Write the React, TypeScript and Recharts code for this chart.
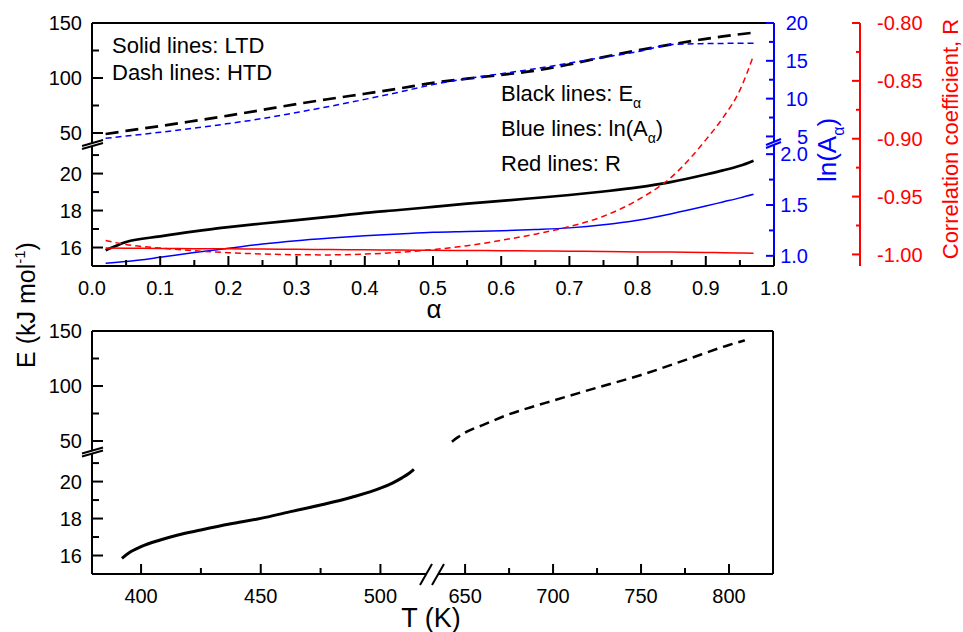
import { LineChart, Line, XAxis, YAxis, ReferenceLine } from "recharts";

const FONT = "'Liberation Sans', Arial, sans-serif";
const BLUE = "#0000ff";
const RED = "#ff0000";

// top panel: values against conversion alpha
const alpha = [0.02, 0.05, 0.1, 0.15, 0.2, 0.25, 0.3, 0.35, 0.4, 0.45, 0.5, 0.55, 0.6, 0.65, 0.7, 0.75, 0.8, 0.85, 0.9, 0.925, 0.95, 0.97];
const eLTD = [15.85, 16.3, 16.6, 16.87, 17.1, 17.3, 17.48, 17.67, 17.87, 18.03, 18.2, 18.37, 18.52, 18.68, 18.84, 19.03, 19.25, 19.55, 19.95, 20.17, 20.42, 20.7];
const eHTD = [49.1, 51.9, 56.3, 61.0, 65.8, 71.0, 76.3, 81.1, 85.7, 90.4, 95.6, 99.4, 102.9, 106.7, 112.4, 119.0, 125.1, 130.6, 135.6, 137.8, 139.8, 141.2];
const lnALTD = [0.927, 0.944, 0.986, 1.033, 1.074, 1.116, 1.149, 1.175, 1.198, 1.215, 1.231, 1.239, 1.247, 1.259, 1.275, 1.305, 1.35, 1.415, 1.49, 1.53, 1.57, 1.605];
const lnAHTD = [4.75, 5.05, 5.55, 6.1, 6.7, 7.37, 8.17, 9.0, 9.9, 10.85, 11.85, 12.65, 13.3, 13.95, 14.7, 15.45, 16.2, 17.15, 17.28, 17.3, 17.32, 17.32];
const rLTD = [-0.9945, -0.9946, -0.9948, -0.995, -0.9952, -0.9954, -0.9956, -0.9958, -0.996, -0.9962, -0.9964, -0.9966, -0.9968, -0.997, -0.9972, -0.9975, -0.9978, -0.998, -0.9983, -0.9985, -0.9987, -0.999];
const rHTD = [-0.988, -0.9915, -0.9945, -0.9968, -0.9985, -0.9996, -1.0003, -1.0004, -0.9997, -0.9982, -0.9958, -0.9925, -0.9878, -0.9825, -0.976, -0.967, -0.953, -0.933, -0.901, -0.882, -0.858, -0.828];

// bottom panel: E against temperature
const tempLTD = [392, 395, 400, 408, 415, 425, 437, 450, 462, 475, 488, 500, 505, 509, 512, 514];
const eTempLTD = [15.85, 16.15, 16.48, 16.84, 17.1, 17.38, 17.7, 18.01, 18.36, 18.73, 19.15, 19.64, 19.92, 20.2, 20.45, 20.66];
const tempHTD = [642.5, 646, 651, 660, 675, 687, 700, 725, 750, 775, 800, 809];
const eTempHTD = [49.4, 53.5, 58.5, 64.5, 74.3, 80.5, 86.7, 98.5, 110, 123.5, 137.3, 141.5];

// ticks
const alphaTicks = [0, 0.05, 0.1, 0.15, 0.2, 0.25, 0.3, 0.35, 0.4, 0.45, 0.5, 0.55, 0.6, 0.65, 0.7, 0.75, 0.8, 0.85, 0.9, 0.95, 1];
const alphaMajor = [0, 0.1, 0.2, 0.3, 0.4, 0.5, 0.6, 0.7, 0.8, 0.9, 1];
const eHighTicks = [50, 75, 100, 125, 150];
const eHighMajor = [50, 100, 150];
const eLowTicks = [16, 17, 18, 19, 20, 21];
const eLowMajor = [16, 18, 20];
const lnAHighTicks = [5, 7.5, 10, 12.5, 15, 17.5, 20];
const lnAHighMajor = [5, 10, 15, 20];
const lnALowTicks = [1, 1.25, 1.5, 1.75, 2];
const lnALowMajor = [1, 1.5, 2];
const rTicks = [-1, -0.975, -0.95, -0.925, -0.9, -0.875, -0.85, -0.825, -0.8];
const rMajor = [-1, -0.95, -0.9, -0.85, -0.8];
const tLowTicks = [400, 425, 450, 475, 500];
const tLowMajor = [400, 450, 500];
const tHighTicks = [650, 675, 700, 725, 750, 775, 800];
const tHighMajor = [650, 700, 750, 800];

const topRows = alpha.map((a, i) => ({
  alpha: a,
  eLTD: eLTD[i],
  eHTD: eHTD[i],
  lnALTD: lnALTD[i],
  lnAHTD: lnAHTD[i],
  rLTD: rLTD[i],
  rHTD: rHTD[i],
}));
const ltdRows = tempLTD.map((t, i) => ({ T: t, E: eTempLTD[i] }));
const htdRows = tempHTD.map((t, i) => ({ T: t, E: eTempHTD[i] }));

type Side = "left" | "right" | "bottom";

// ticks drawn inward, labels outward
function tickMaker(side: Side, majors: number[], color: string, digits: number, big: number, small: number, gap: number) {
  return (props: any) => {
    const { x, y, payload } = props;
    const v = Number(payload.value);
    const isMajor = majors.some((m) => Math.abs(m - v) < 1e-6);
    const len = isMajor ? big : small;
    const label = v.toFixed(digits);
    const txt = { fill: color, fontSize: 20, fontFamily: FONT };
    if (side === "left") {
      return (
        <g>
          <line x1={x} y1={y} x2={x + len} y2={y} stroke={color} strokeWidth={2} />
          {isMajor && (
            <text x={x - gap} y={y} dy="0.36em" textAnchor="end" {...txt}>
              {label}
            </text>
          )}
        </g>
      );
    }
    if (side === "right") {
      return (
        <g>
          <line x1={x} y1={y} x2={x - len} y2={y} stroke={color} strokeWidth={2} />
          {isMajor && (
            <text x={x + gap} y={y} dy="0.36em" textAnchor={gap > 25 ? "end" : "start"} {...txt}>
              {label}
            </text>
          )}
        </g>
      );
    }
    return (
      <g>
        <line x1={x} y1={y} x2={x} y2={y - len} stroke={color} strokeWidth={2} />
        {isMajor && (
          <text x={x} y={y + gap} textAnchor="middle" {...txt}>
            {label}
          </text>
        )}
      </g>
    );
  };
}

const axisBase = { tickSize: 0, tickMargin: 0, interval: 0 as const, tickLine: false, allowDataOverflow: true, type: "number" as const };
const blackLine = { stroke: "#000", strokeWidth: 2 };

const abs = (children: any) => (
  <div style={{ position: "absolute", left: 0, top: 0 }}>{children}</div>
);

export default function App() {
  return (
    <div style={{ position: "absolute", left: 0, top: 0, width: 963, height: 632, background: "#fff", fontFamily: FONT }}>
      {/* top panel, upper part (HTD) */}
      {abs(
        <LineChart width={963} height={150} data={topRows} margin={{ top: 23, right: 129, bottom: 6, left: 0 }}>
          <XAxis dataKey="alpha" {...axisBase} domain={[0, 1]} hide />
          <YAxis yAxisId="e" {...axisBase} domain={[40, 150]} ticks={eHighTicks} width={92} axisLine={blackLine}
            tick={tickMaker("left", eHighMajor, "#000", 0, 11, 7, 10)} />
          <YAxis yAxisId="a" orientation="right" {...axisBase} domain={[4, 20]} ticks={lnAHighTicks} width={60}
            axisLine={{ stroke: BLUE, strokeWidth: 2 }} tick={tickMaker("right", lnAHighMajor, BLUE, 0, 8, 5, 34)} />
          <ReferenceLine yAxisId="e" y={150} stroke="#000" strokeWidth={2} />
          <Line yAxisId="e" type="monotone" dataKey="eHTD" stroke="#000" strokeWidth={2.7} strokeDasharray="13 7" dot={false} isAnimationActive={false} />
          <Line yAxisId="a" type="monotone" dataKey="lnAHTD" stroke={BLUE} strokeWidth={1.5} strokeDasharray="6 4" dot={false} isAnimationActive={false} />
        </LineChart>
      )}
      {/* top panel, lower part (LTD) */}
      {abs(
        <LineChart width={963} height={310} data={topRows} margin={{ top: 144, right: 129, bottom: 0, left: 0 }}>
          <XAxis dataKey="alpha" {...axisBase} domain={[0, 1]} ticks={alphaTicks} height={44} axisLine={blackLine}
            tick={tickMaker("bottom", alphaMajor, "#000", 1, 10, 6, 28.5)} />
          <YAxis yAxisId="e" {...axisBase} domain={[15, 21.6]} ticks={eLowTicks} width={92} axisLine={blackLine}
            tick={tickMaker("left", eLowMajor, "#000", 0, 11, 7, 10)} />
          <YAxis yAxisId="a" orientation="right" {...axisBase} domain={[0.9, 2.1]} ticks={lnALowTicks} width={60}
            axisLine={{ stroke: BLUE, strokeWidth: 2 }} tick={tickMaker("right", lnALowMajor, BLUE, 1, 8, 5, 34)} />
          <Line yAxisId="a" type="monotone" dataKey="lnALTD" stroke={BLUE} strokeWidth={1.5} dot={false} isAnimationActive={false} />
          <Line yAxisId="e" type="monotone" dataKey="eLTD" stroke="#000" strokeWidth={2.7} dot={false} isAnimationActive={false} />
        </LineChart>
      )}
      {/* top panel, correlation coefficient */}
      {abs(
        <LineChart width={963} height={272} data={topRows} margin={{ top: 23, right: 28, bottom: 6, left: 92 }}>
          <XAxis dataKey="alpha" {...axisBase} domain={[0, 1]} hide />
          <YAxis yAxisId="r" orientation="right" {...axisBase} domain={[-1.01, -0.8]} ticks={rTicks} width={75}
            axisLine={{ stroke: RED, strokeWidth: 2 }} tick={tickMaker("right", rMajor, RED, 2, 8, 4, 17)} />
          <YAxis yAxisId="aa" orientation="right" {...axisBase} domain={[0, 1]} width={86} tick={false} axisLine={false} />
          <Line yAxisId="r" type="monotone" dataKey="rLTD" stroke={RED} strokeWidth={1.5} dot={false} isAnimationActive={false} />
          <Line yAxisId="r" type="monotone" dataKey="rHTD" stroke={RED} strokeWidth={1.5} strokeDasharray="6 4" dot={false} isAnimationActive={false} />
        </LineChart>
      )}
      {/* bottom panel, upper left (axis only) */}
      {abs(
        <LineChart width={963} height={456} data={ltdRows} margin={{ top: 331, right: 528, bottom: 4, left: 0 }}>
          <XAxis dataKey="T" {...axisBase} domain={[379.5, 522.8]} hide />
          <YAxis yAxisId="e" {...axisBase} domain={[40, 150]} ticks={eHighTicks} width={92} axisLine={blackLine}
            tick={tickMaker("left", eHighMajor, "#000", 0, 11, 7, 10)} />
          <ReferenceLine yAxisId="e" y={150} stroke="#000" strokeWidth={2} />
        </LineChart>
      )}
      {/* bottom panel, lower left (LTD) */}
      {abs(
        <LineChart width={963} height={624} data={ltdRows} margin={{ top: 452, right: 528, bottom: 0, left: 0 }}>
          <XAxis dataKey="T" {...axisBase} domain={[379.5, 522.8]} ticks={tLowTicks} height={50} axisLine={blackLine}
            tick={tickMaker("bottom", tLowMajor, "#000", 0, 10, 6, 28.5)} />
          <YAxis yAxisId="e" {...axisBase} domain={[15, 21.6]} ticks={eLowTicks} width={92} axisLine={blackLine}
            tick={tickMaker("left", eLowMajor, "#000", 0, 11, 7, 10)} />
          <Line yAxisId="e" type="monotone" dataKey="E" stroke="#000" strokeWidth={3} dot={false} isAnimationActive={false} />
        </LineChart>
      )}
      {/* bottom panel, upper right (HTD) */}
      {abs(
        <LineChart width={963} height={456} data={htdRows} margin={{ top: 331, right: 180, bottom: 4, left: 435 }}>
          <XAxis dataKey="T" {...axisBase} domain={[632.9, 825]} hide />
          <YAxis yAxisId="e" orientation="right" {...axisBase} domain={[40, 150]} width={10} tick={false} axisLine={blackLine} />
          <ReferenceLine yAxisId="e" y={150} stroke="#000" strokeWidth={2} />
          <Line yAxisId="e" type="monotone" dataKey="E" stroke="#000" strokeWidth={2.5} strokeDasharray="10 6" dot={false} isAnimationActive={false} />
        </LineChart>
      )}
      {/* bottom panel, lower right (axis only) */}
      {abs(
        <LineChart width={963} height={624} data={htdRows} margin={{ top: 452, right: 180, bottom: 0, left: 435 }}>
          <XAxis dataKey="T" {...axisBase} domain={[632.9, 825]} ticks={tHighTicks} height={50} axisLine={blackLine}
            tick={tickMaker("bottom", tHighMajor, "#000", 0, 10, 6, 28.5)} />
          <YAxis yAxisId="e" orientation="right" {...axisBase} domain={[15, 21.6]} width={10} tick={false} axisLine={blackLine} />
        </LineChart>
      )}
      {/* breaks, notes and titles */}
      <svg width={963} height={632} style={{ position: "absolute", left: 0, top: 0 }} fontFamily={FONT}>
        <polygon points="82,146 103,140 103,143 82,149" fill="#fff" />
        <line x1={82} y1={146} x2={103} y2={140} stroke="#000" strokeWidth={2} />
        <line x1={82} y1={149} x2={103} y2={143} stroke="#000" strokeWidth={2} />
        <polygon points="766,145 781,139 781,142 766,148" fill="#fff" />
        <line x1={766} y1={145} x2={781} y2={139} stroke={BLUE} strokeWidth={2} />
        <line x1={766} y1={148} x2={781} y2={142} stroke={BLUE} strokeWidth={2} />
        <polygon points="82,453.5 103,447.5 103,450.5 82,456.5" fill="#fff" />
        <line x1={82} y1={453.5} x2={103} y2={447.5} stroke="#000" strokeWidth={2} />
        <line x1={82} y1={456.5} x2={103} y2={450.5} stroke="#000" strokeWidth={2} />
        <rect x={427} y={572} width={11} height={4} fill="#fff" />
        <line x1={420} y1={585} x2={432} y2={564} stroke="#000" strokeWidth={2} />
        <line x1={432} y1={585} x2={444} y2={564} stroke="#000" strokeWidth={2} />

        <text x={112} y={52.5} fontSize={22}>Solid lines: LTD</text>
        <text x={112} y={80} fontSize={22}>Dash lines: HTD</text>
        <text x={501} y={101} fontSize={22}>
          Black lines: E<tspan fontSize={14} dy={7}>α</tspan>
        </text>
        <text x={501} y={136} fontSize={22}>
          Blue lines: ln(A<tspan fontSize={14} dy={7}>α</tspan>
          <tspan dy={-7}>)</tspan>
        </text>
        <text x={501} y={171} fontSize={22}>Red lines: R</text>

        <text x={434} y={318} fontSize={26} textAnchor="middle">α</text>
        <text x={431} y={627} fontSize={27} textAnchor="middle">T (K)</text>
        <text transform="translate(35,305) rotate(-90)" fontSize={25} textAnchor="middle">
          E (kJ mol<tspan fontSize={15} dy={-10}>-1</tspan>
          <tspan dy={10}>)</tspan>
        </text>
        <text transform="translate(836,150) rotate(-90)" fontSize={26} textAnchor="middle" fill={BLUE}>
          ln(A<tspan fontSize={16} dy={8}>α</tspan>
          <tspan dy={-8}>)</tspan>
        </text>
        <text transform="translate(958,139) rotate(-90)" fontSize={22} textAnchor="middle" fill={RED}>
          Correlation coefficient, R
        </text>
      </svg>
    </div>
  );
}
